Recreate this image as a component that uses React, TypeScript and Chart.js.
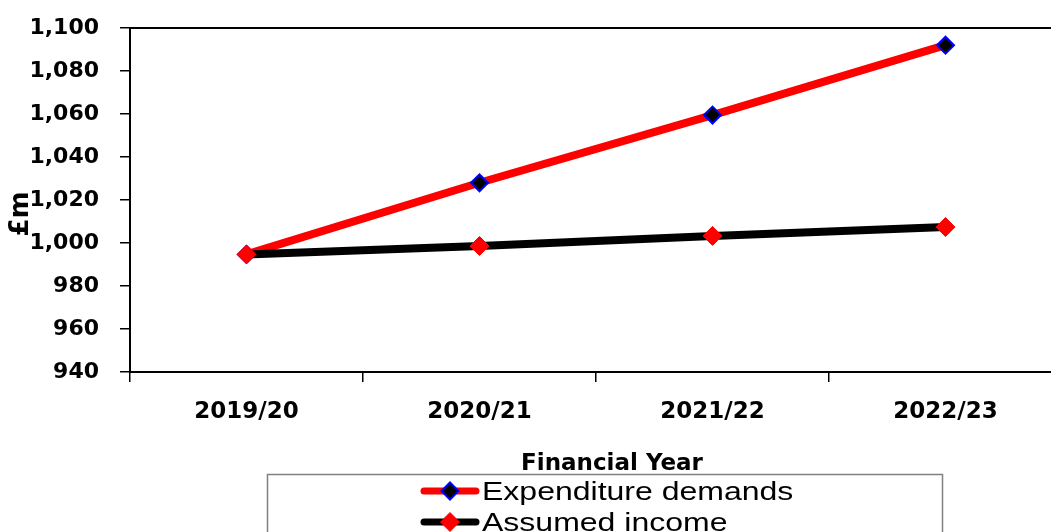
import React, { useEffect, useRef } from 'react';
import { Chart, registerables } from 'chart.js';

Chart.register(...registerables);

const categories = ['2019/20', '2020/21', '2021/22', '2022/23'];
const expenditureDemands = [994.7, 1028, 1059.5, 1092];
const assumedIncome = [994.7, 998.6, 1003.3, 1007.4];
const seriesLabels = ['Expenditure demands', 'Assumed income'];
const yMin = 940;
const yMax = 1100;
const yStep = 20;
const xTitle = 'Financial Year';
const yTitle = '£m';

const CANVAS_W = 1051;
const CANVAS_H = 532;
const PLOT_RIGHT = 1062;

const frameAndLegend = {
  id: 'frameAndLegend',
  afterLayout(chart: any) {
    // the plot area of the original continues past the right edge of the picture
    const x = chart.scales.x;
    chart.chartArea.right = PLOT_RIGHT;
    chart.chartArea.width = PLOT_RIGHT - chart.chartArea.left;
    x.right = PLOT_RIGHT;
    x.width = PLOT_RIGHT - x.left;
    x.configure();
  },
  beforeDatasetsDraw(chart: any) {
    const { ctx, chartArea } = chart;
    ctx.save();
    // clear anything drawn along the picture's right edge inside the plot
    ctx.fillStyle = '#fff';
    ctx.fillRect(CANVAS_W - 8, chartArea.top + 2, 8, chartArea.bottom - chartArea.top - 4);
    ctx.strokeStyle = '#000';
    ctx.lineWidth = 2;
    ctx.beginPath();
    ctx.moveTo(chartArea.left, chartArea.top);
    ctx.lineTo(chartArea.right + 20, chartArea.top);
    ctx.stroke();
    ctx.restore();
  },
  afterDraw(chart: any) {
    const { ctx } = chart;
    ctx.save();
    // x title
    ctx.fillStyle = '#000';
    ctx.font = 'bold 23px "DejaVu Sans"';
    ctx.textAlign = 'center';
    ctx.textBaseline = 'alphabetic';
    ctx.fillText(xTitle, 612, 470);
    // y title
    ctx.save();
    ctx.translate(21, 214);
    ctx.rotate(-Math.PI / 2);
    ctx.font = 'bold 26px "DejaVu Sans"';
    ctx.textAlign = 'center';
    ctx.textBaseline = 'middle';
    ctx.fillText(yTitle, 0, 0);
    ctx.restore();
    // legend box
    ctx.strokeStyle = '#808080';
    ctx.lineWidth = 1.5;
    ctx.strokeRect(267.5, 474.5, 675, 120);
    const rowsY = [491, 522];
    chart.data.datasets.forEach((ds: any, i: number) => {
      const y = rowsY[i];
      ctx.save();
      ctx.strokeStyle = ds.borderColor;
      ctx.lineWidth = 7;
      ctx.lineCap = 'round';
      ctx.beginPath();
      ctx.moveTo(424, y);
      ctx.lineTo(476, y);
      ctx.stroke();
      const r = ds.pointRadius;
      ctx.beginPath();
      ctx.moveTo(450 - r, y);
      ctx.lineTo(450, y - r);
      ctx.lineTo(450 + r, y);
      ctx.lineTo(450, y + r);
      ctx.closePath();
      ctx.fillStyle = ds.pointBackgroundColor;
      ctx.fill();
      ctx.strokeStyle = ds.pointBorderColor;
      ctx.lineWidth = ds.pointBorderWidth;
      ctx.lineCap = 'butt';
      ctx.stroke();
      ctx.restore();
      ctx.save();
      ctx.translate(482, y + 2);
      ctx.scale(1.28, 1);
      ctx.fillStyle = '#000';
      ctx.font = '25px "Liberation Sans", Arial, sans-serif';
      ctx.textAlign = 'left';
      ctx.textBaseline = 'middle';
      ctx.fillText(ds.label, 0, 0);
      ctx.restore();
    });
    ctx.restore();
  },
};

export default function App() {
  const canvasRef = useRef<HTMLCanvasElement | null>(null);

  useEffect(() => {
    const canvas = canvasRef.current;
    if (!canvas) return;
    const chart = new Chart(canvas, {
      type: 'line',
      data: {
        labels: categories,
        datasets: [
          {
            label: seriesLabels[0],
            data: expenditureDemands,
            borderColor: '#FF0000',
            backgroundColor: '#FF0000',
            borderWidth: 8,
            pointStyle: 'rectRot',
            pointRadius: 8.5,
            pointHoverRadius: 8.5,
            pointBackgroundColor: '#000000',
            pointBorderColor: '#0000FF',
            pointBorderWidth: 2,
            tension: 0,
            order: 2,
            clip: false,
          },
          {
            label: seriesLabels[1],
            data: assumedIncome,
            borderColor: '#000000',
            backgroundColor: '#000000',
            borderWidth: 8,
            pointStyle: 'rectRot',
            pointRadius: 9.5,
            pointHoverRadius: 9.5,
            pointBackgroundColor: '#FF0000',
            pointBorderColor: '#FF0000',
            pointBorderWidth: 1,
            tension: 0,
            order: 1,
            clip: false,
          },
        ],
      },
      options: {
        responsive: false,
        animation: false,
        devicePixelRatio: 1,
        layout: {
          autoPadding: false,
          padding: { left: 0, top: 28, right: 0, bottom: 0 },
        },
        plugins: {
          legend: { display: false },
          tooltip: { enabled: false },
          title: { display: false },
        },
        scales: {
          x: {
            type: 'category',
            offset: true,
            grid: {
              offset: true,
              drawOnChartArea: false,
              drawTicks: true,
              tickLength: 10,
              color: '#000',
              lineWidth: 1.5,
            },
            border: { display: true, color: '#000', width: 2 },
            ticks: {
              color: '#000',
              padding: 16,
              maxRotation: 0,
              font: { family: '"DejaVu Sans"', size: 23, weight: 'bold' },
            },
            afterFit: (scale: any) => {
              scale.height = CANVAS_H - 372;
              scale.paddingLeft = 0;
              scale.paddingRight = 0;
            },
          },
          y: {
            min: yMin,
            max: yMax,
            grid: {
              drawOnChartArea: false,
              drawTicks: true,
              tickLength: 10,
              color: '#000',
              lineWidth: 1.5,
            },
            border: { display: true, color: '#000', width: 2 },
            ticks: {
              stepSize: yStep,
              color: '#000',
              padding: 21,
              font: { family: '"DejaVu Sans"', size: 22, weight: 'bold' },
              callback: (v: any) => Number(v).toLocaleString('en-US'),
            },
            afterFit: (scale: any) => {
              scale.width = 130;
              scale.paddingTop = 14;
              scale.paddingBottom = 14;
            },
          },
        },
      },
      plugins: [frameAndLegend],
    });
    return () => chart.destroy();
  }, []);

  return (
    <div
      style={{
        position: 'fixed',
        left: 0,
        top: 0,
        width: CANVAS_W,
        height: CANVAS_H,
        overflow: 'hidden',
        background: '#fff',
      }}
    >
      <canvas
        ref={canvasRef}
        width={CANVAS_W}
        height={CANVAS_H}
        style={{ display: 'block', width: CANVAS_W, height: CANVAS_H }}
      />
    </div>
  );
}
